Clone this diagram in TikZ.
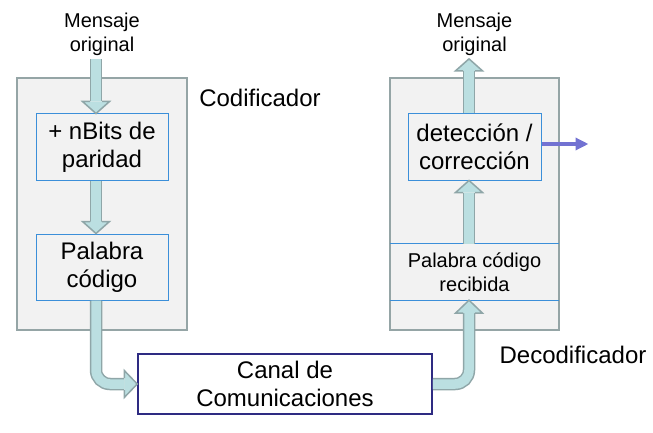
\documentclass[tikz,border=0pt]{standalone}
\usepackage{fontspec}
\setmainfont{Liberation Sans}
\usetikzlibrary{positioning, calc, arrows.meta}

\definecolor{framegray}{HTML}{95A5A6}
\definecolor{framefill}{HTML}{F2F2F2}
\definecolor{boxblue}{HTML}{3B8FD9}
\definecolor{pipeline}{HTML}{8FA6A8}
\definecolor{pipefill}{HTML}{BBDFE1}
\definecolor{chanblue}{HTML}{2E2B82}
\definecolor{outviolet}{HTML}{7272D2}

\begin{document}
\begin{tikzpicture}[x=1pt, y=-1pt,
    bigtext/.style={font=\fontsize{24}{27.6}\selectfont, align=center},
    smalltext/.style={font=\fontsize{20}{24}\selectfont, align=center},
    frame/.style={draw=framegray, fill=framefill, line width=1.8pt, inner sep=0pt},
    stage/.style={draw=boxblue, fill=framefill, line width=1pt, inner sep=0pt},
    head/.style={draw=pipeline, fill=pipefill, line width=1.5pt, line join=miter}]

    \useasboundingbox (0,0) rectangle (653,433);

    % marcos
    \node[frame, minimum width=170pt, minimum height=252pt] (enc) at (102,204) {};
    \node[frame, minimum width=169pt, minimum height=252pt] (dec) at (474.5,204) {};

    % bloques internos
    \node[stage, bigtext, minimum width=132pt, minimum height=66pt] (par) at (102,147) {+ nBits de\\paridad};
    \node[stage, bigtext, minimum width=132pt, minimum height=66pt] (pal) at (102,267) {Palabra\\código};
    \node[stage, bigtext, minimum width=133pt, minimum height=66pt] (det) at (474.5,147) {detección /\\corrección};
    \node[smalltext, inner sep=0pt, minimum width=169pt, minimum height=56pt] (rec) at (474.5,272) {Palabra código\\recibida};
    \draw[boxblue, line width=1pt]
        (rec.north west) -- (rec.north east)
        (rec.south west) -- (rec.south east);

    \node[draw=chanblue, fill=white, line width=1.5pt, inner sep=0pt, bigtext,
          minimum width=294pt, minimum height=60pt] (chan) at (285,384) {Canal de\\Comunicaciones};

    % textos
    \node[smalltext] (msgin) at (102,34) {Mensaje\\original};
    \node[smalltext] (msgout) at (474.5,34) {Mensaje\\original};
    \node[bigtext] (codlab) at (260,98) {Codificador};
    \node[bigtext] (declab) at (573,355) {Decodificador};

    \coordinate (encx) at (96,0);
    \coordinate (decx) at (469,0);

    % flechas gruesas
    \foreach \w/\c in {12.5pt/pipeline, 9.5pt/pipefill} {
        \draw[line width=\w, draw=\c] (encx |- msgin.south) -- ($(encx |- par.north)+(0,-12)$);
        \draw[line width=\w, draw=\c] (encx |- par.south) -- ($(encx |- pal.north)+(0,-12)$);
        \draw[line width=\w, draw=\c, rounded corners=14pt]
            (encx |- pal.south) |- ($(chan.west)+(-13,0)$);
        \draw[line width=\w, draw=\c, rounded corners=14pt]
            (chan.east) -| ($(decx |- rec.south)+(0,13)$);
        \draw[line width=\w, draw=\c] (decx |- rec.north) -- ($(decx |- det.south)+(0,12)$);
        \draw[line width=\w, draw=\c] (decx |- det.north) -- ($(decx |- msgout.south)+(0,12)$);
    }

    \filldraw[head] (encx |- par.north) ++(-6,-12) -- ++(-7.5,0) -- (encx |- par.north) -- ++(13.5,-12) -- ++(-7.5,0);
    \filldraw[head] (encx |- pal.north) ++(-6,-12) -- ++(-7.5,0) -- (encx |- pal.north) -- ++(13.5,-12) -- ++(-7.5,0);
    \filldraw[head] (chan.west) ++(-13,-6) -- ++(0,-7.5) -- (chan.west) -- ++(-13,13.5) -- ++(0,-7.5);
    \filldraw[head] (decx |- rec.south) ++(-6,13) -- ++(-7.5,0) -- (decx |- rec.south) -- ++(13.5,13) -- ++(-7.5,0);
    \filldraw[head] (decx |- det.south) ++(-6,12) -- ++(-7.5,0) -- (decx |- det.south) -- ++(13.5,12) -- ++(-7.5,0);
    \filldraw[head] (decx |- msgout.south) ++(-6,12) -- ++(-7.5,0) -- (decx |- msgout.south) -- ++(13.5,12) -- ++(-7.5,0);

    % salida de error
    \draw[outviolet, line width=4pt, -{Triangle[length=13pt, width=12pt]}]
        ([yshift=3pt]det.east) -- ++(47,0);

\end{tikzpicture}
\end{document}
